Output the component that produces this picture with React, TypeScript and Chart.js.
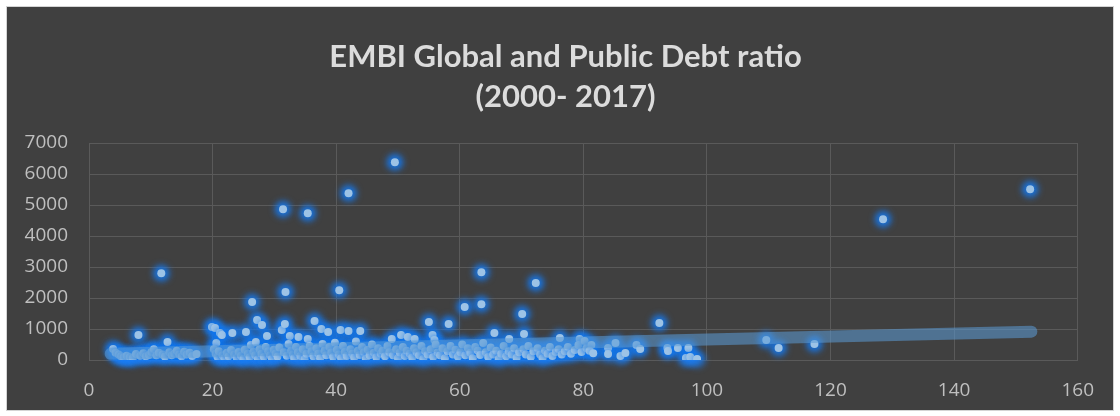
import React, { useEffect, useRef } from "react";
import { Chart, registerables } from "chart.js";

Chart.register(...registerables);

const chartTitle = ["EMBI Global and Public Debt ratio", "(2000- 2017)"];

// Public debt ratio (x) and EMBI Global spread (y)
const publicDebt = [
  3.9, 4.3, 4.8, 5.2, 5.6, 6.1, 6.6, 7.1, 7.6, 8.0, 8.3, 8.8, 9.2, 9.7, 10.1, 10.5, 10.9, 11.3, 11.7, 11.9, 12.3, 12.7, 13.0, 13.4, 13.8, 14.2, 14.6, 15.0, 15.4, 15.8, 16.3, 16.7, 17.4,
  19.9, 20.4, 20.6, 20.2, 20.5, 20.8, 21.2, 21.5, 21.0, 21.6, 21.9, 22.3, 22.6, 23.2, 23.0, 23.5, 23.9, 24.2, 24.6, 25.0, 25.4, 25.2, 25.7, 26.0, 26.4, 26.2, 26.6, 26.9, 27.0, 27.2, 27.3, 27.6, 28.0, 27.9, 28.3, 28.8, 28.6, 29.0, 29.3, 29.6, 29.9, 30.2,
  30.5, 30.8, 31.2, 31.4, 31.7, 31.8, 31.5, 32.0, 32.5, 32.3, 32.7, 33.0, 33.2, 33.5, 33.9, 33.8, 34.2, 34.6, 34.9, 35.4, 35.4, 35.2, 35.7, 36.0, 36.3, 36.5, 36.8, 37.1, 37.4, 37.6, 37.8, 38.1, 38.4, 38.7, 38.9, 39.2, 39.5, 39.8, 40.1, 40.5, 40.4, 40.7, 40.8, 41.1, 41.4, 41.7, 42.0, 42.0, 42.3, 42.6, 42.9, 43.2, 43.5, 43.9, 43.8, 44.2, 44.5, 44.8,
  45.1, 45.4, 45.8, 46.1, 46.5, 46.8, 47.2, 47.5, 47.9, 48.3, 48.6, 49.0, 49.2, 49.5, 49.7, 50.0, 50.5, 50.3, 50.8, 51.1, 51.6, 51.4, 51.9, 52.3, 52.7, 52.6, 53.0, 53.4, 53.8, 54.1, 54.4, 54.8, 55.0, 55.6, 55.9, 55.3, 55.7, 56.1, 56.4, 56.8, 57.2, 57.6, 58.0, 58.2, 58.5, 58.9, 59.3, 59.7,
  60.1, 60.4, 60.8, 60.9, 61.3, 61.7, 62.1, 62.5, 62.9, 63.3, 63.5, 63.5, 63.8, 64.2, 64.6, 65.0, 65.6, 65.4, 65.9, 66.3, 66.7, 67.1, 67.5, 68.0, 67.9, 68.4, 68.8, 69.2, 69.6, 70.1, 70.4, 70.3, 70.7, 71.1, 71.5, 71.9, 72.3, 72.6, 73.0, 73.4, 73.8, 74.2, 74.6, 75.0, 75.5, 76.2, 76.0, 76.5, 77.0, 77.5, 78.0, 78.6, 79.4, 79.2, 79.7, 80.2, 80.5, 81.3, 81.0, 81.6,
  84.0, 84.0, 85.2, 86.0, 86.8, 88.6, 89.2, 92.3, 93.6, 93.7, 95.3, 97.0, 96.6, 97.3, 98.4, 109.6, 111.6, 117.4, 128.5, 152.3,
];

const embiSpread = [
  354, 230, 180, 120, 90, 140, 100, 70, 190, 805, 140, 220, 120, 160, 260, 350, 150, 230, 2800, 180, 110, 580, 250, 150, 200, 300, 180, 120, 270, 180, 230, 130, 190,
  1063, 1030, 547, 350, 200, 100, 870, 805, 280, 150, 60, 230, 120, 870, 320, 180, 80, 260, 140, 40, 900, 330, 200, 90, 1868, 480, 270, 150, 580, 1288, 20, 350, 1127, 200, 100, 773, 420, 280, 150, 50, 330, 210,
  110, 400, 966, 4862, 1160, 2190, 250, 140, 773, 520, 300, 180, 60, 420, 740, 250, 130, 350, 30, 676, 4733, 200, 450, 280, 120, 1255, 380, 200, 60, 1000, 520, 300, 150, 900, 420, 240, 100, 560, 330, 2254, 180, 966, 60, 450, 260, 130, 934, 5377, 350, 200, 80, 600, 300, 934, 160, 420, 250, 40,
  330, 150, 500, 230, 90, 380, 200, 300, 120, 450, 250, 676, 150, 6376, 350, 60, 805, 240, 420, 130, 740, 300, 200, 80, 676, 380, 250, 150, 450, 30, 280, 180, 1223, 805, 644, 350, 100, 500, 240, 150, 380, 60, 280, 1160, 450, 180, 330, 110,
  250, 500, 1710, 150, 380, 230, 60, 420, 300, 160, 2834, 1800, 550, 250, 100, 400, 870, 180, 300, 30, 200, 450, 120, 680, 280, 180, 380, 70, 250, 1480, 840, 350, 180, 450, 100, 280, 2480, 380, 180, 60, 300, 200, 420, 130, 260, 710, 350, 180, 280, 420, 200, 320, 680, 480, 260, 612, 380, 483, 300, 220,
  386, 190, 547, 130, 225, 483, 354, 1190, 386, 290, 386, 386, 64, 97, 32, 644, 386, 515, 4540, 5506,
];

// Linear trendline end points
const trendX = [3.5, 152.5];
const trendY = [200, 915];

const xTicks = [0, 20, 40, 60, 80, 100, 120, 140, 160];
const yTicks = [0, 1000, 2000, 3000, 4000, 5000, 6000, 7000];

const glowPlugin = {
  id: "glow",
  afterLayout(chart: any) {
    const t = chart.titleBlock;
    if (t) {
      t.left = 11;
      t.right = 1106;
    }
  },
  beforeDatasetDraw(chart: any, args: any) {
    if (chart.data.datasets[args.index].label === "EMBI") {
      const ctx = chart.ctx;
      ctx.save();
      ctx.filter = "blur(3px)";
      ctx.fillStyle = "rgba(25,125,245,0.75)";
      for (const el of args.meta.data) {
        ctx.beginPath();
        ctx.arc(el.x, el.y, 8.5, 0, Math.PI * 2);
        ctx.fill();
      }
      ctx.restore();
      ctx.save();
      ctx.shadowColor = "rgba(10,115,235,0.9)";
      ctx.shadowBlur = 6;
    }
  },
  afterDatasetDraw(chart: any, args: any) {
    if (chart.data.datasets[args.index].label === "EMBI") {
      chart.ctx.restore();
    }
  },
};

export default function App() {
  const ref = useRef<HTMLCanvasElement | null>(null);

  useEffect(() => {
    if (!ref.current) return;
    const points = publicDebt.map((x, i) => ({ x, y: embiSpread[i] }));
    const trend = trendX.map((x, i) => ({ x, y: trendY[i] }));
    const tickFont = { family: "'Open Sans', sans-serif", size: 19 };
    const chart = new Chart(ref.current, {
      type: "scatter",
      data: {
        datasets: [
          {
            label: "Trend",
            data: trend,
            showLine: true,
            borderColor: "rgba(91,155,213,0.55)",
            borderWidth: 12,
            borderCapStyle: "round",
            pointRadius: 0,
            order: 0,
          } as any,
          {
            label: "EMBI",
            data: points,
            backgroundColor: "#9dc3e6",
            borderWidth: 0,
            pointRadius: 4,
            order: 1,
          },
        ],
      },
      options: {
        animation: false,
        responsive: false,
        layout: { padding: { left: 0, right: 29, top: 0, bottom: 0 } },
        plugins: {
          legend: { display: false },
          tooltip: { enabled: false },
          title: {
            display: true,
            text: chartTitle,
            color: "#dcdcdc",
            font: { family: "Lato, 'Open Sans', sans-serif", size: 31, weight: "bold", lineHeight: 40 / 31 },
            padding: { top: 30, bottom: 26 },
          },
        },
        scales: {
          x: {
            type: "linear",
            min: 0,
            max: 160,
            afterBuildTicks: (s: any) => {
              s.ticks = xTicks.map((v) => ({ value: v }));
            },
            afterFit: (s: any) => {
              s.height = 50;
            },
            grid: { color: "#5a5a5a", drawTicks: false, lineWidth: 1 },
            border: { color: "#5a5a5a" },
            ticks: { color: "#bfbfbf", font: tickFont, padding: 19, maxRotation: 0 },
          },
          y: {
            type: "linear",
            min: 0,
            max: 7000,
            afterBuildTicks: (s: any) => {
              s.ticks = yTicks.map((v) => ({ value: v }));
            },
            afterFit: (s: any) => {
              s.width = 82;
            },
            grid: { color: "#5a5a5a", drawTicks: false, lineWidth: 1 },
            border: { color: "#5a5a5a" },
            ticks: { color: "#bfbfbf", font: tickFont, padding: 21, callback: (v: any) => String(v) },
          },
        },
      },
      plugins: [glowPlugin],
    });
    return () => chart.destroy();
  }, []);

  return (
    <>
      <style>{`body{margin:0;background:#ffffff;}`}</style>
      <div
        style={{
          position: "absolute",
          left: 6,
          top: 6,
          width: 1106,
          height: 403,
          border: "1px solid #d4d4d4",
          background: "#404040",
        }}
      >
        <canvas ref={ref} width={1106} height={403} style={{ display: "block" }} />
      </div>
    </>
  );
}
